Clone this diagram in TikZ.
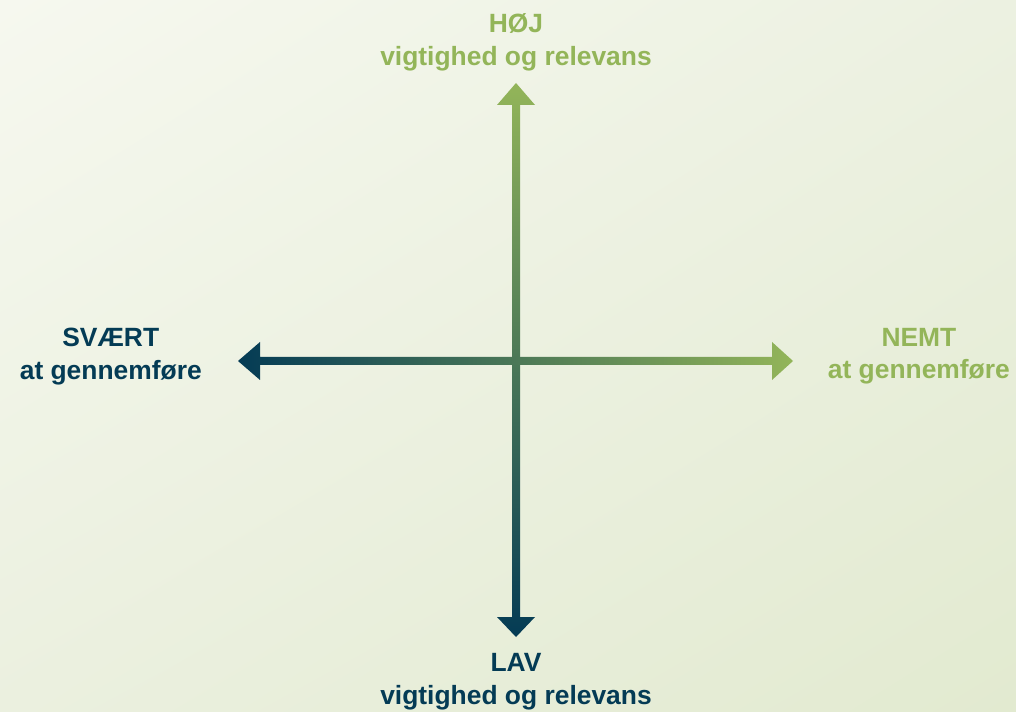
\documentclass[tikz,border=0pt]{standalone}
\usepackage{fontspec}
\setmainfont{Liberation Sans}
\usetikzlibrary{positioning,shadings}
\definecolor{hojgreen}{RGB}{147,181,89}
\definecolor{lavblue}{RGB}{4,59,85}
\definecolor{bgtl}{RGB}{246,248,239}
\definecolor{bgtr}{RGB}{236,241,225}
\definecolor{bgbl}{RGB}{235,240,223}
\definecolor{bgbr}{RGB}{226,234,208}
\def\vertaxis{(top) -- ++(19,22) -- ++(-15,0) -- ++(0,512) -- ++(15,0) -- (bottom)
  -- ++(-19,-20) -- ++(15,0) -- ++(0,-512) -- ++(-15,0) -- cycle}
\def\horzaxis{(left) -- ++(22,-19) -- ++(0,15) -- ++(512,0) -- ++(0,-15) -- (right)
  -- ++(-21,19) -- ++(0,-15) -- ++(-512,0) -- ++(0,15) -- cycle}

\begin{document}
\begin{tikzpicture}[x=0.75pt,y=-0.75pt,
    axislabel/.style={align=center,inner sep=0pt,
      font=\fontsize{19.8}{24.5}\selectfont\bfseries}]
			% background
			\useasboundingbox (0,0) rectangle (1016,712);
			\shade[upper left=bgtl,upper right=bgtr,lower left=bgbl,lower right=bgbr]
			  (0,0) rectangle (1016,712);
			% axes
			\coordinate (top) at (516,83);
			\coordinate (bottom) at (516,637);
			\coordinate (left) at (238,361);
			\coordinate (right) at (793,361);
			\shade[top color=hojgreen,bottom color=lavblue] \vertaxis;
			\shade[left color=lavblue,right color=hojgreen] \horzaxis;
			% labels
			\node[axislabel,text=hojgreen,above=9pt of top] (hoej) {HØJ\\vigtighed og relevans};
			\node[axislabel,text=lavblue,below=12pt of bottom] (lav) {LAV\\vigtighed og relevans};
			\node[axislabel,text=lavblue,left=27pt of left,yshift=3.5pt] (svaert) {SVÆRT\\at gennemføre};
			\node[axislabel,text=hojgreen,right=26pt of right,yshift=3.5pt] (nemt) {NEMT\\at gennemføre};
		\end{tikzpicture}
\end{document}
